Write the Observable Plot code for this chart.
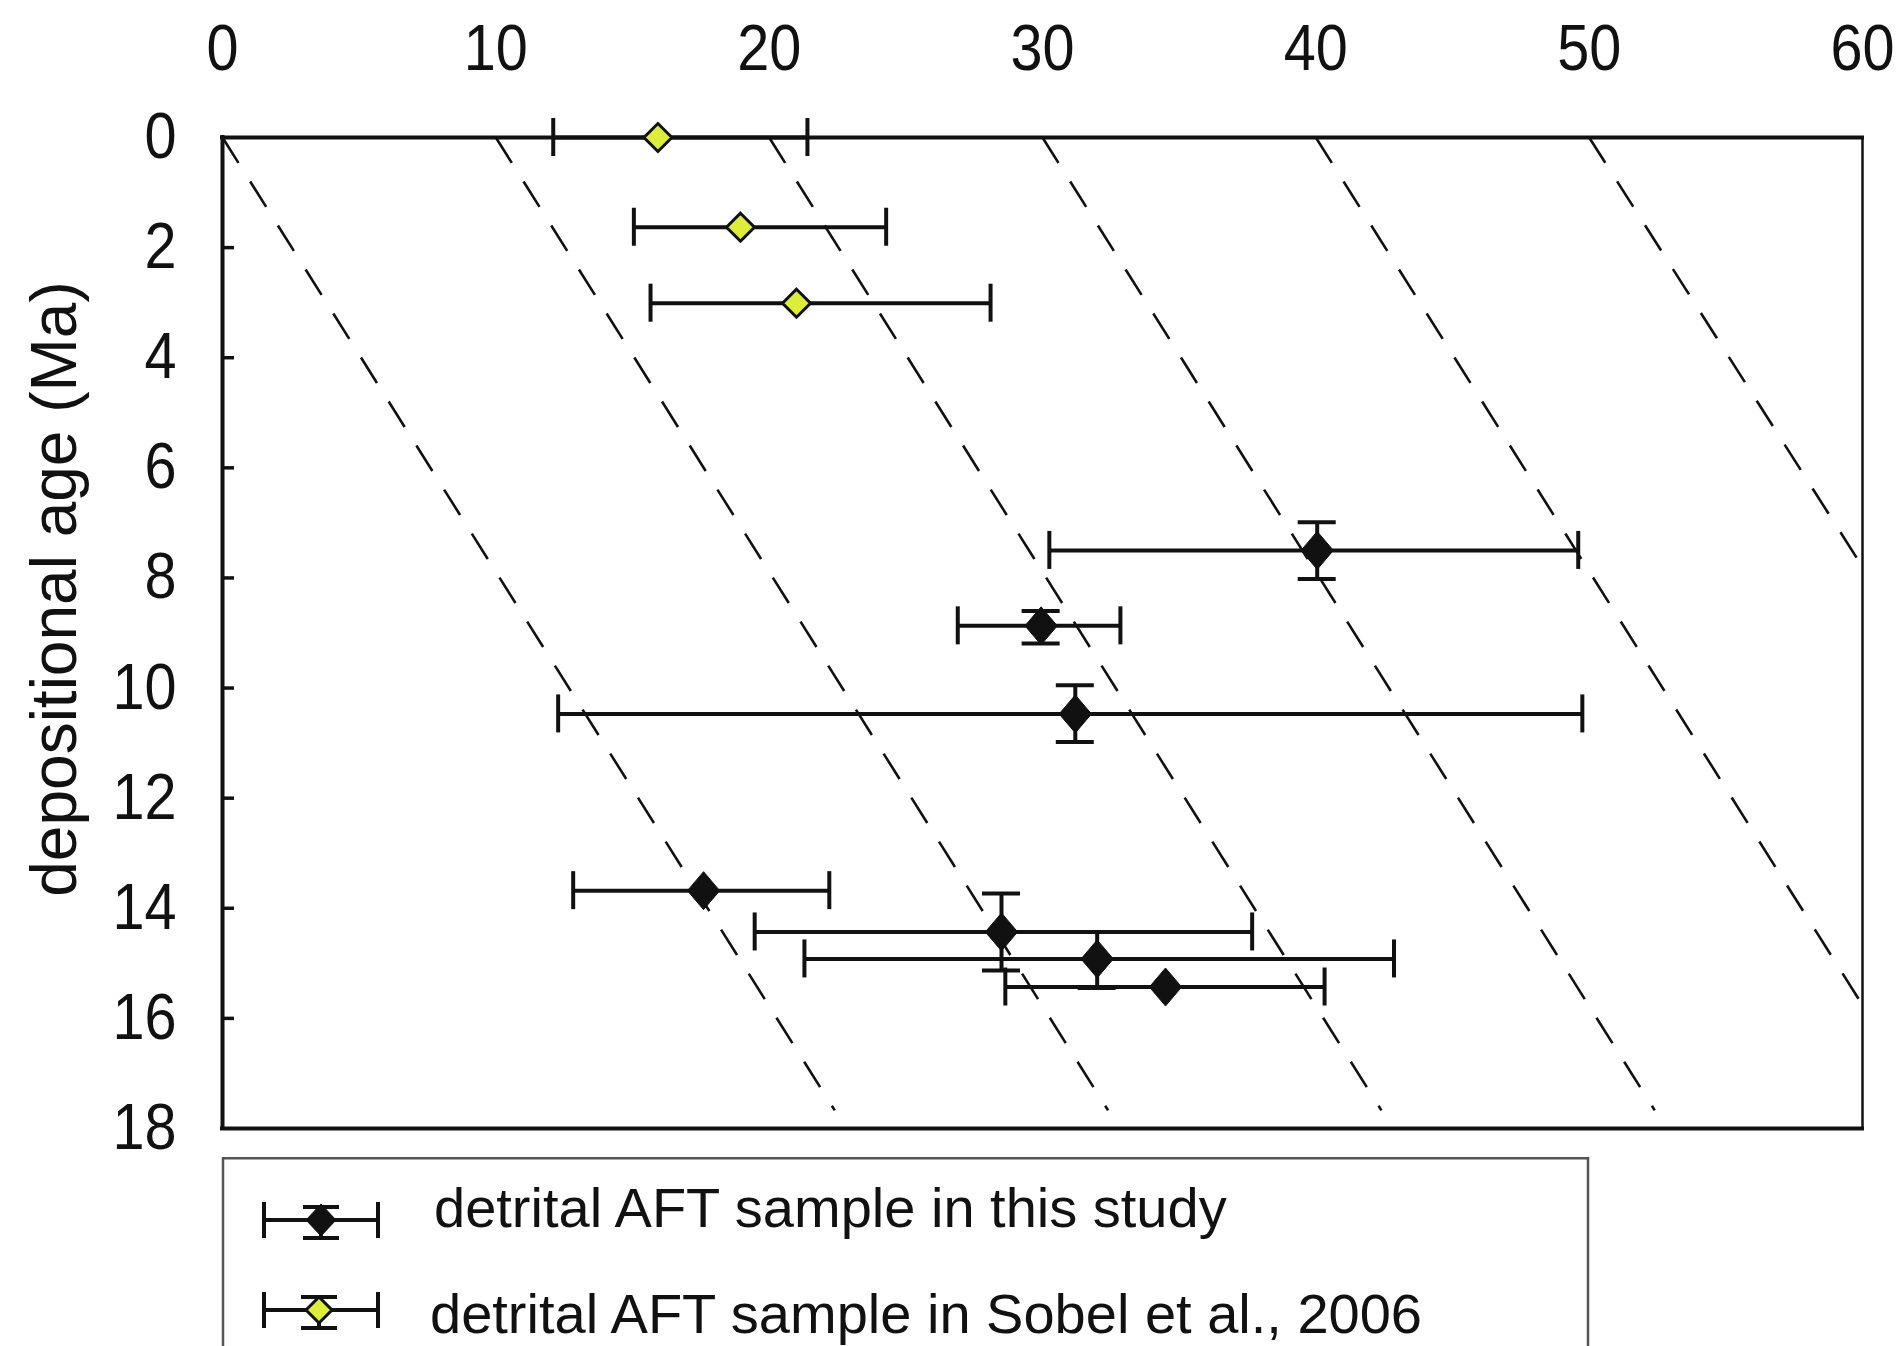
<!DOCTYPE html>
<html><head><meta charset="utf-8">
<script src="https://cdn.jsdelivr.net/npm/d3@7"></script>
<script src="https://cdn.jsdelivr.net/npm/@observablehq/plot@0.6"></script>
<style>
html,body{margin:0;padding:0;background:#fff;width:1900px;height:1346px;overflow:hidden;font-family:"Liberation Sans",Arial,sans-serif;}
#chart svg,#legend svg{display:block;}
</style></head><body><div id="chart"></div><div id="legend"></div>
<script>
// ---- data ----
const xTicks = [0, 10, 20, 30, 40, 50, 60];
const yTicks = [0, 2, 4, 6, 8, 10, 12, 14, 16, 18];
const yLabel = "depositional age (Ma)";
const legendLabels = ["detrital AFT sample in this study", "detrital AFT sample in Sobel et al., 2006"];

// this study: detrital AFT age (x) vs depositional age (y)
const studyAge    = [40.05, 29.95, 31.2, 17.6, 28.5, 32.0, 34.5];
const studyDep    = [7.5, 8.87, 10.47, 13.68, 14.43, 14.92, 15.43];
const studyAgeLo  = [30.25, 26.9, 12.28, 12.83, 19.47, 21.29, 28.64];
const studyAgeHi  = [49.6, 32.85, 49.75, 22.2, 37.67, 42.86, 40.32];
const studyDepLo  = [6.99, 8.6, 9.95, null, 13.73, 14.43, null];
const studyDepHi  = [8.02, 9.19, 10.98, null, 15.13, 15.45, null];

// Sobel et al., 2006
const sobelAge   = [15.93, 18.95, 21.0];
const sobelDep   = [0, 1.63, 3.01];
const sobelAgeLo = [12.1, 15.05, 15.66];
const sobelAgeHi = [21.4, 24.28, 28.1];

// dashed reference lines (start and end points)
const lineX1 = [0, 10, 20, 30, 40, 50];
const lineY1 = [0, 0, 0, 0, 0, 0];
const lineX2 = [22.4, 32.4, 42.4, 52.4, 60, 60];
const lineY2 = [17.67, 17.67, 17.67, 17.67, 15.76, 7.8];

// ---- tables ----
const study = studyAge.map((x, i) => ({x, y: studyDep[i], xlo: studyAgeLo[i], xhi: studyAgeHi[i], ylo: studyDepLo[i], yhi: studyDepHi[i]}));
const studyY = study.filter(d => d.ylo != null);
const sobel = sobelAge.map((x, i) => ({x, y: sobelDep[i], xlo: sobelAgeLo[i], xhi: sobelAgeHi[i]}));
const lagLines = lineX1.map((x1, i) => ({x1, y1: lineY1[i], x2: lineX2[i], y2: lineY2[i]}));

// ---- styles ----
const FONT = '"Liberation Sans", Arial, Helvetica, sans-serif';
const INK = "#111";
const YELLOW = "#dcee3c";
const W = 1900, H = 1157, mL = 222, mR = 38, mT = 137, mB = 29;
const plotW = W - mL - mR;
const SW = 4, CAP = 19;

function diamond(ratio) {
  return {draw(ctx, size) {
    const r = Math.sqrt(size / Math.PI), hw = r * ratio, hh = r;
    ctx.moveTo(0, -hh); ctx.lineTo(hw, 0); ctx.lineTo(0, hh); ctx.lineTo(-hw, 0); ctx.closePath();
  }};
}

function errMarks(data, dataY) {
  const m = [
    Plot.ruleY(data, {y: "y", x1: "xlo", x2: "xhi", stroke: INK, strokeWidth: SW}),
    Plot.ruleX(data, {x: "xlo", y1: "y", y2: "y", insetTop: -CAP, insetBottom: -CAP, stroke: INK, strokeWidth: SW}),
    Plot.ruleX(data, {x: "xhi", y1: "y", y2: "y", insetTop: -CAP, insetBottom: -CAP, stroke: INK, strokeWidth: SW})
  ];
  if (dataY) m.push(
    Plot.ruleX(dataY, {x: "x", y1: "ylo", y2: "yhi", stroke: INK, strokeWidth: SW}),
    Plot.ruleY(dataY, {y: "ylo", x1: "x", x2: "x", insetLeft: -CAP, insetRight: -CAP, stroke: INK, strokeWidth: SW}),
    Plot.ruleY(dataY, {y: "yhi", x1: "x", x2: "x", insetLeft: -CAP, insetRight: -CAP, stroke: INK, strokeWidth: SW})
  );
  return m;
}

const chart = Plot.plot({
  width: W, height: H,
  marginLeft: mL, marginRight: mR, marginTop: mT, marginBottom: mB,
  style: {fontFamily: FONT, background: "white", color: INK, overflow: "visible"},
  x: {domain: [0, 60]},
  y: {domain: [0, 18], reverse: true},
  marks: [
    Plot.link(lagLines, {x1: "x1", y1: "y1", x2: "x2", y2: "y2", stroke: INK, strokeWidth: 2.6, strokeDasharray: "30,22"}),
    Plot.ruleY([0, 18], {stroke: INK, strokeWidth: 4, strokeLinecap: "square"}),
    Plot.ruleX([0], {stroke: INK, strokeWidth: 4, strokeLinecap: "square"}),
    Plot.ruleX([60], {stroke: INK, strokeWidth: 2.5}),
    Plot.tickY(yTicks.slice(1, -1), {y: d => d, stroke: INK, strokeWidth: 3.5, insetRight: plotW - 12}),
    Plot.axisX({anchor: "top", ticks: xTicks, tickSize: 0, tickPadding: 68, fontSize: 64, label: null, fill: INK}),
    Plot.axisY({anchor: "left", ticks: yTicks, tickSize: 0, tickPadding: 46, fontSize: 64, label: null, fill: INK}),
    Plot.text([yLabel], {text: d => d, frameAnchor: "left", textAnchor: "middle", lineAnchor: "middle", rotate: -90, dx: -167, dy: -44, fontSize: 64, fill: INK}),
    ...errMarks(sobel, null),
    ...errMarks(study, studyY),
    Plot.dot(sobel, {x: "x", y: "y", symbol: diamond(1), r: 14, fill: YELLOW, stroke: INK, strokeWidth: 3}),
    Plot.dot(study, {x: "x", y: "y", symbol: diamond(0.85), r: 19, fill: INK, stroke: INK, strokeWidth: 1})
  ]
});
// slightly condensed tick-label glyphs, as in the reference
d3.select(chart).selectAll('g[aria-label="x-axis tick label"] text, g[aria-label="y-axis tick label"] text').each(function() {
  const t = this.getAttribute("transform");
  if (t) this.setAttribute("transform", t + " scale(0.9,1)");
  else {
    const x = +this.getAttribute("x") || 0, y = +this.getAttribute("y") || 0;
    this.setAttribute("transform", `translate(${x},${y}) scale(0.9,1) translate(${-x},${-y})`);
  }
});
document.getElementById("chart").appendChild(chart);

// ---- legend (below the plot SVG) ----
const leg = d3.select("#legend").append("svg").attr("width", 1900).attr("height", 189);
leg.append("rect").attr("x", 223).attr("y", 1.25).attr("width", 1365).attr("height", 400)
  .attr("fill", "none").attr("stroke", "#555").attr("stroke-width", 2.5);
function legSym(cx, cy, fill, hw, hh, yCapTop, yCapBot) {
  const g = leg.append("g").attr("stroke", INK).attr("stroke-width", SW);
  g.append("line").attr("x1", 264).attr("x2", 378).attr("y1", cy).attr("y2", cy);
  g.append("line").attr("x1", 264).attr("x2", 264).attr("y1", cy - 18).attr("y2", cy + 18);
  g.append("line").attr("x1", 378).attr("x2", 378).attr("y1", cy - 18).attr("y2", cy + 18);
  g.append("line").attr("x1", cx).attr("x2", cx).attr("y1", yCapTop).attr("y2", yCapBot);
  g.append("line").attr("x1", cx - 18).attr("x2", cx + 18).attr("y1", yCapTop).attr("y2", yCapTop);
  g.append("line").attr("x1", cx - 18).attr("x2", cx + 18).attr("y1", yCapBot).attr("y2", yCapBot);
  g.append("path").attr("d", `M${cx},${cy - hh}L${cx + hw},${cy}L${cx},${cy + hh}L${cx - hw},${cy}Z`)
    .attr("fill", fill).attr("stroke-width", fill === INK ? 1 : 3);
}
legSym(321, 63, INK, 15, 16, 50, 81);
legSym(319, 153, YELLOW, 13, 13, 140, 171);
leg.append("text").attr("x", 434).attr("y", 70).attr("font-size", 56).attr("font-family", FONT).attr("fill", INK).text(legendLabels[0]);
leg.append("text").attr("x", 430).attr("y", 176).attr("font-size", 56).attr("font-family", FONT).attr("fill", INK).text(legendLabels[1]);
</script></body></html>
